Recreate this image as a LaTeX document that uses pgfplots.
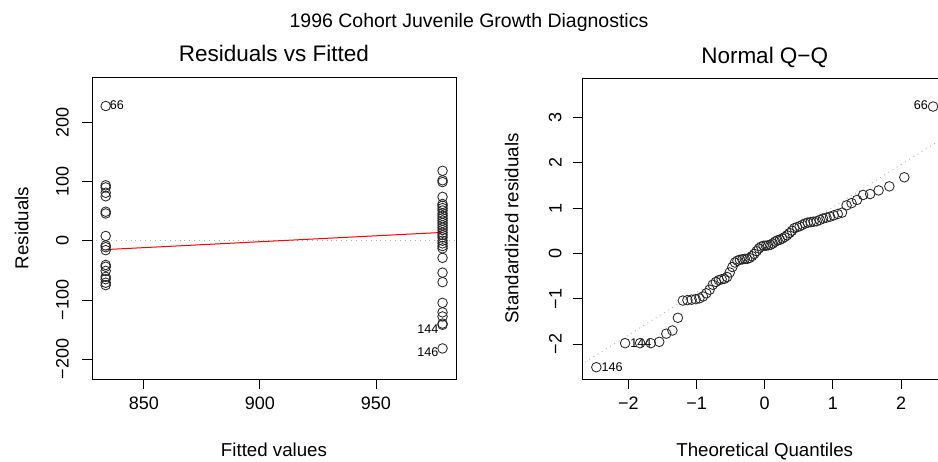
\documentclass[border=0pt]{standalone}
\usepackage{fontspec}
\setmainfont{Liberation Sans}
\usepackage{pgfplots}
\pgfplotsset{compat=1.18}
\usepackage{pgfplotstable}

\pgfplotstableread{
x y
833.6 227.5
833.6 93.5
833.6 90
833.6 81
833.6 75
833.6 49
833.6 46
833.6 8
833.6 -8
833.6 -11
833.6 -16
833.6 -41
833.6 -44
833.6 -51
833.6 -61
833.6 -65
833.6 -71
833.6 -75
978.7 118
978.7 102
978.7 99
978.7 74
978.7 62
978.7 59
978.7 55
978.7 51
978.7 46
978.7 42
978.7 38
978.7 34
978.7 30
978.7 26
978.7 22
978.7 18
978.7 13.5
978.7 9.6
978.7 5.6
978.7 0
978.7 -4.5
978.7 -9
978.7 -13
978.7 -29
978.7 -54
978.7 -70
978.7 -105
978.7 -121
978.7 -128
978.7 -140
978.7 -142
978.7 -182
}\resfit

\pgfplotstableread{
q s
-2.470 -2.51
-2.048 -1.98
-1.828 -1.98
-1.671 -1.98
-1.547 -1.95
-1.444 -1.77
-1.354 -1.70
-1.274 -1.42
-1.201 -1.04
-1.134 -1.03
-1.072 -1.02
-1.013 -1.01
-0.958 -0.99
-0.906 -0.95
-0.856 -0.88
-0.808 -0.80
-0.762 -0.69
-0.717 -0.63
-0.674 -0.59
-0.632 -0.57
-0.592 -0.56
-0.552 -0.52
-0.513 -0.42
-0.474 -0.30
-0.437 -0.20
-0.400 -0.16
-0.364 -0.14
-0.328 -0.13
-0.292 -0.12
-0.257 -0.12
-0.222 -0.10
-0.188 -0.06
-0.153 -0.01
-0.119 0.05
-0.085 0.11
-0.051 0.15
-0.017 0.17
0.017 0.17
0.051 0.18
0.085 0.19
0.119 0.22
0.153 0.26
0.188 0.29
0.222 0.30
0.257 0.33
0.292 0.36
0.328 0.40
0.364 0.45
0.400 0.50
0.437 0.56
0.474 0.58
0.513 0.60
0.552 0.63
0.592 0.66
0.632 0.68
0.674 0.69
0.717 0.70
0.762 0.71
0.808 0.74
0.856 0.77
0.906 0.79
0.958 0.81
1.013 0.84
1.072 0.87
1.134 0.90
1.201 1.06
1.274 1.11
1.354 1.18
1.444 1.29
1.547 1.31
1.671 1.39
1.828 1.48
2.048 1.68
2.470 3.24
}\qqdata

\pgfplotsset{
  diag/.style={
    scale only axis, anchor=south west,
    width=364pt, height=302pt,
    axis line style={line width=0.8pt, black},
    every tick/.style={line width=0.8pt, black},
    tick align=outside, major tick length=10pt,
    tick pos=left,
    ticklabel style={font=\fontsize{18}{20}\selectfont},
    xticklabel style={anchor=north, inner ysep=8pt},
    title style={font=\fontsize{22.5}{24}\selectfont, at={(0.5,1)}, anchor=base, yshift=9pt},
    clip=true,
  },
  pts/.style={only marks, mark=o, mark size=4.8pt, mark options={line width=0.85pt, draw=black!85}},
}

\begin{document}
\begin{tikzpicture}[x=1pt,y=1pt]
\useasboundingbox (0,0) rectangle (938,-462);
\node[anchor=base, font=\fontsize{19.5}{22}\selectfont] at (469,-28) {1996 Cohort Juvenile Growth Diagnostics};

\begin{axis}[diag, at={(92pt,-379pt)},
  yticklabel style={rotate=90, anchor=south, inner ysep=13pt},
  xmin=827.7, xmax=984.5, ymin=-233.6, ymax=276.5,
  xtick={850,900,950}, xticklabels={850,900,950},
  ytick={-200,-100,0,100,200}, yticklabels={{−200},{−100},0,100,200},
  title={Residuals vs Fitted}]
\addplot[gray!60, line width=0.9pt, dash pattern=on 0.9pt off 4pt] coordinates {(800,0) (1000,0)};
\addplot[pts] table[x=x, y=y] {\resfit};
\addplot[red, line width=1pt] coordinates {(833.6,-15) (978.7,14)};
\node[anchor=west, font=\fontsize{12.6}{14}\selectfont, inner sep=1pt, xshift=3pt, yshift=1pt] at (axis cs:833.6,227.5) {66};
\node[anchor=east, font=\fontsize{12.6}{14}\selectfont, inner sep=1pt, xshift=-3pt, yshift=-4pt] at (axis cs:978.7,-142) {144};
\node[anchor=east, font=\fontsize{12.6}{14}\selectfont, inner sep=1pt, xshift=-3pt, yshift=-4pt] at (axis cs:978.7,-182) {146};
\end{axis}

\begin{axis}[diag, at={(582.7pt,-379pt)}, height=301pt,
  yticklabel style={rotate=90, anchor=south, inner ysep=11pt},
  xmin=-2.67, xmax=2.67, ymin=-2.77, ymax=3.87,
  xtick={-2,-1,0,1,2}, xticklabels={{−2},{−1},0,1,2},
  ytick={-2,-1,0,1,2,3}, yticklabels={{−2},{−1},0,1,2,3},
  title={Normal Q{\char"2212}Q}]
\addplot[gray!60, line width=0.9pt, dash pattern=on 0.9pt off 4pt] coordinates {(-3,-2.74) (3,2.90)};
\addplot[pts] table[x=q, y=s] {\qqdata};
\node[anchor=east, font=\fontsize{12.6}{14}\selectfont, inner sep=1pt, xshift=-4pt, yshift=1pt] at (axis cs:2.47,3.24) {66};
\node[anchor=west, font=\fontsize{12.6}{14}\selectfont, inner sep=1pt, xshift=4pt] at (axis cs:-2.048,-1.98) {144};
\node[anchor=west, font=\fontsize{12.6}{14}\selectfont, inner sep=1pt, xshift=4pt] at (axis cs:-2.47,-2.51) {146};
\end{axis}

\node[anchor=base, font=\fontsize{18.7}{21}\selectfont] at (274,-456.7) {Fitted values};
\node[anchor=base, rotate=90, font=\fontsize{18.7}{21}\selectfont] at (28.3,-228) {Residuals};
\node[anchor=base, font=\fontsize{18.7}{21}\selectfont] at (764.7,-456.7) {Theoretical Quantiles};
\node[anchor=base, rotate=90, font=\fontsize{18.7}{21}\selectfont] at (518.3,-228.5) {Standardized residuals};
\end{tikzpicture}
\end{document}
